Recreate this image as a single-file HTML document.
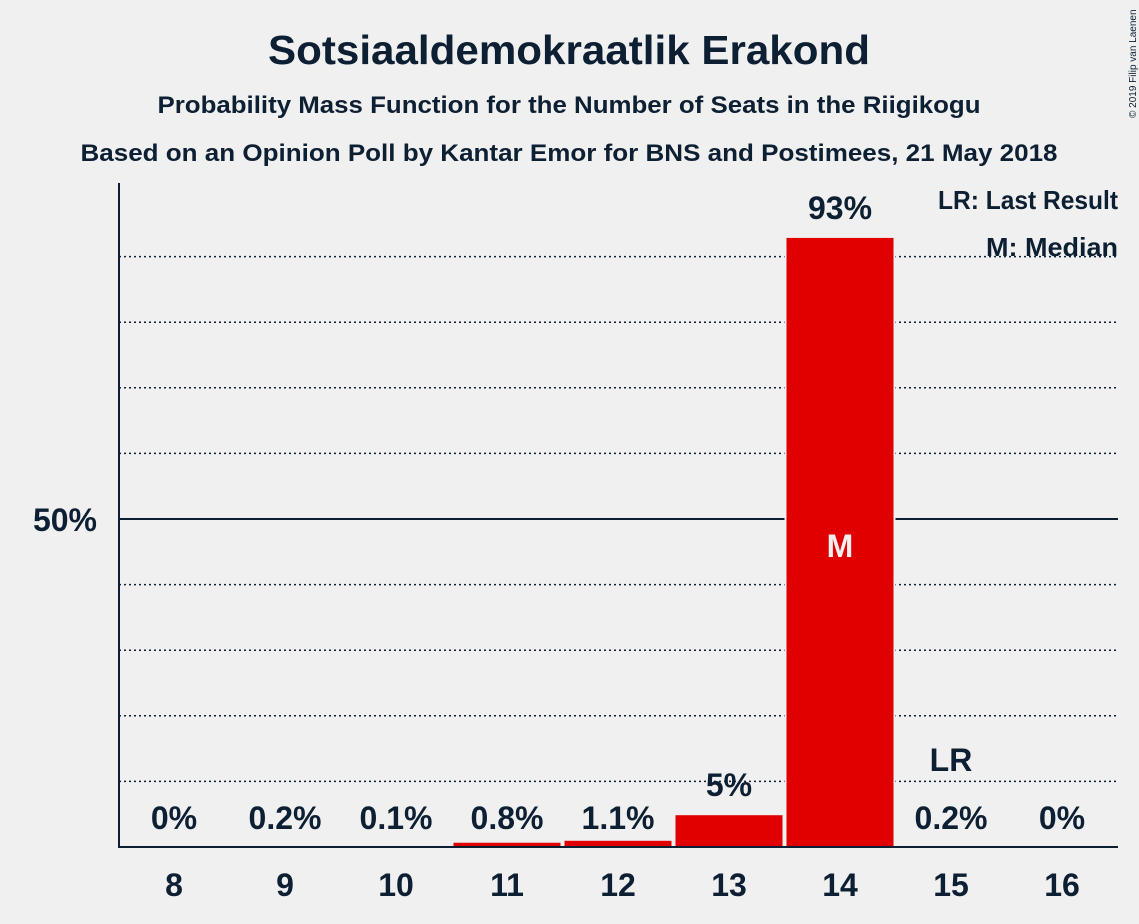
<!DOCTYPE html>
<html><head><meta charset="utf-8"><style>
body{margin:0;background:#f0f0f0;}
svg{display:block;font-family:"Liberation Sans",sans-serif;font-weight:bold;fill:#0d1f33;}
</style></head><body>
<svg id="c" width="1139" height="924" viewBox="0 0 1139 924">
<rect width="1139" height="924" fill="#f0f0f0"/>
<text x="569" y="64" font-size="41" text-anchor="middle" textLength="602" lengthAdjust="spacingAndGlyphs">Sotsiaaldemokraatlik Erakond</text>
<text x="569" y="113" font-size="24" text-anchor="middle" textLength="823" lengthAdjust="spacingAndGlyphs">Probability Mass Function for the Number of Seats in the Riigikogu</text>
<text x="569" y="161" font-size="24" text-anchor="middle" textLength="977" lengthAdjust="spacingAndGlyphs">Based on an Opinion Poll by Kantar Emor for BNS and Postimees, 21 May 2018</text>
<text x="1136" y="118" font-size="10" font-weight="normal" transform="rotate(-90 1136 118)">© 2019 Filip van Laenen</text>
<g id="grid"></g>
<g id="bars"></g>
<line x1="119" y1="183" x2="119" y2="848" stroke="#0d1f33" stroke-width="2"/>
<line x1="118" y1="847" x2="1118" y2="847" stroke="#0d1f33" stroke-width="2"/>
<text x="97" y="531" font-size="32" text-anchor="end">50%</text>
<text x="1118" y="209" font-size="26" text-anchor="end" textLength="180" lengthAdjust="spacingAndGlyphs">LR: Last Result</text>
<text x="1118" y="256" font-size="26" text-anchor="end" textLength="132" lengthAdjust="spacingAndGlyphs">M: Median</text>
</svg>
<script>
const categories=[8,9,10,11,12,13,14,15,16];
const values=[0,0.2,0.1,0.8,1.1,5,93,0.2,0];
const valueLabels=["0%","0.2%","0.1%","0.8%","1.1%","5%","93%","0.2%","0%"];
const medianSeat=14;
const lastResultSeat=15;
const NS="http://www.w3.org/2000/svg";
const y=v=>847-v*6.56;
const x=i=>174+i*111;
const grid=document.getElementById('grid'),bars=document.getElementById('bars');
for(let g=10;g<=90;g+=10){
  const l=document.createElementNS(NS,'line');
  l.setAttribute('x1',119);l.setAttribute('x2',1118);l.setAttribute('y1',y(g));l.setAttribute('y2',y(g));
  l.setAttribute('stroke','#0d1f33');
  if(g===50){l.setAttribute('stroke-width','2');}else{l.setAttribute('stroke-width','1.5');l.setAttribute('stroke-dasharray','2,3');}
  
  
  grid.appendChild(l);
}
function t(txt,xx,yy,size,fill,name){
  const e=document.createElementNS(NS,'text');
  e.setAttribute('x',xx);e.setAttribute('y',yy);e.setAttribute('font-size',size);e.setAttribute('text-anchor','middle');
  if(fill)e.setAttribute('fill',fill);
  e.textContent=txt;
  
  
  bars.appendChild(e);
}
categories.forEach((c,i)=>{
  const top=y(values[i]);
  if(values[i]>0){
    const r=document.createElementNS(NS,'rect');
    r.setAttribute('x',x(i)-54.5);r.setAttribute('width',109);
    r.setAttribute('y',top);r.setAttribute('height',847-top);
    r.setAttribute('fill','#e00000');r.setAttribute('stroke','#f0f0f0');r.setAttribute('stroke-width','2');
    
    
    bars.appendChild(r);
  }
  const ly=(top-18<815)?top-18:829;
  t(valueLabels[i],x(i),ly,32,null,'value-label-'+c);
  t(String(c),x(i),896,32,null,'x-tick-'+c);
  if(c===medianSeat)t('M',x(i),557,32,'#f0f0f0','median-marker');
  if(c===lastResultSeat)t('LR',x(i),771,32,null,'last-result-marker');
});
</script>
</body></html>
